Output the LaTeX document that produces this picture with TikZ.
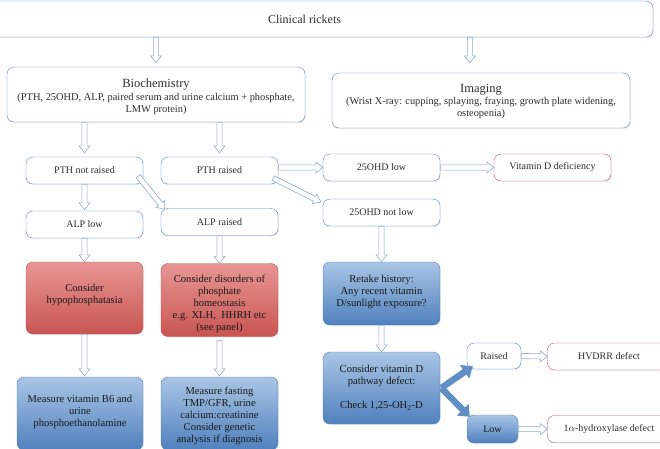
\documentclass[tikz,border=0pt]{standalone}
\usepackage{fontspec}
\setmainfont{Liberation Serif}
\usetikzlibrary{arrows.meta,calc,shadows}
\definecolor{boxblue}{RGB}{79,129,189}
\definecolor{boxbluetop}{RGB}{170,197,230}
\definecolor{arrowblue}{RGB}{140,172,210}
\definecolor{boxred}{RGB}{192,80,77}
\definecolor{boxredfill}{RGB}{200,85,82}
\definecolor{boxredtop}{RGB}{232,150,148}
\definecolor{txt}{RGB}{45,45,45}
% lines of a box, moved up by #1 without changing the box size
\newcommand{\liftlines}[2]{\raisebox{#1}[\height][\depth]{\begin{tabular}{@{}c@{}}#2\end{tabular}}}
\begin{document}
\begin{tikzpicture}[x=1pt, y=-1pt,
    box/.style={draw=boxblue, rounded corners=7pt, fill=white, align=center, text=txt,
        font=\fontsize{10}{12}\selectfont, minimum width=117pt, minimum height=27pt, inner sep=1pt,
        drop shadow={opacity=0.12, shadow xshift=0.8pt, shadow yshift=-1.2pt}},
    redline/.style={box, draw=boxred},
    redbox/.style={box, draw=boxred, top color=boxredtop, bottom color=boxredfill, text=black!90,
        font=\fontsize{10.6}{12}\selectfont},
    bluebox/.style={box, draw=boxblue, top color=boxbluetop, bottom color=boxblue, text=black!90,
        font=\fontsize{10.6}{12}\selectfont},
    hollow/.style={draw=arrowblue, fill=white, line width=0.6pt, to path={
        ($(\tikztostart)!2.6pt!90:(\tikztotarget)$)
        -- ($($(\tikztotarget)!7pt!(\tikztostart)$)!2.6pt!90:(\tikztotarget)$)
        -- ($($(\tikztotarget)!7pt!(\tikztostart)$)!5.5pt!90:(\tikztotarget)$)
        -- (\tikztotarget)
        -- ($($(\tikztotarget)!7pt!(\tikztostart)$)!5.5pt!-90:(\tikztotarget)$)
        -- ($($(\tikztotarget)!7pt!(\tikztostart)$)!2.6pt!-90:(\tikztotarget)$)
        -- ($(\tikztostart)!2.6pt!-90:(\tikztotarget)$) -- cycle}},
    fatarrow/.style={draw=boxblue!90, line width=6.5pt, -{Triangle[length=10pt, width=16pt]}}]
            \clip (0,0) rectangle (660,448);
            \node (clin) at (304.5,19) [box, minimum width=697pt, minimum height=36pt, font=\fontsize{12}{14}\selectfont] {Clinical rickets};
            \node (bio) at (156,94.5) [box, minimum width=298pt, minimum height=55pt]
                {\liftlines{-2.5pt}{{\fontsize{12.5}{14}\selectfont Biochemistry}\\[1pt]{\fontsize{10.4}{12}\selectfont (PTH, 25OHD, ALP, paired serum and urine calcium + phosphate,}\\{\fontsize{10.4}{12}\selectfont LMW protein)}}};
            \node (img) at (481,100.5) [box, minimum width=298pt, minimum height=55pt]
                {\liftlines{-2pt}{{\fontsize{12.5}{14}\selectfont Imaging}\\[0pt]{\fontsize{10.4}{12}\selectfont (Wrist X-ray: cupping, splaying, fraying, growth plate widening,}\\{\fontsize{10.4}{12}\selectfont osteopenia)}}};
            \node (ptnr) at (84.5,170.5) [box] {PTH not raised};
            \node (ptr) at (219.5,170.5) [box] {PTH raised};
            \node (alpl) at (84.5,224.5) [box] {ALP low};
            \node (alpr) at (219.5,222) [box] {ALP raised};
            \node (ohdl) at (381.5,167.5) [box] {25OHD low};
            \node (vdd) at (552.5,167.5) [redline] {Vitamin D deficiency};
            \node (ohdnl) at (381.5,212.5) [box] {25OHD not low};
            \node (hypo) at (84.5,298) [redbox, minimum height=72pt] {\liftlines{3pt}{Consider\\hypophosphatasia}};
            \node (disord) at (219.5,300) [redbox, minimum height=73pt] {\liftlines{-4pt}{Consider disorders of\\phosphate\\homeostasis\\e.g. XLH,~ HHRH etc\\(see panel)}};
            \node (mbsix) at (80,413.5) [bluebox, minimum width=126pt, minimum height=73pt] {\liftlines{1pt}{Measure vitamin B6 and\\urine\\phosphoethanolamine}};
            \node (mfast) at (219.5,413.5) [bluebox, minimum height=73pt] {\liftlines{-2.5pt}{Measure fasting\\TMP/GFR, urine\\calcium:creatinine\\Consider genetic\\analysis if diagnosis}};
            \node (retake) at (381.5,293.5) [bluebox, minimum height=63pt] {\liftlines{1pt}{Retake history:\\Any recent vitamin\\D/sunlight exposure?}};
            \node (cvd) at (381.5,388) [bluebox, minimum height=72pt] {\liftlines{0pt}{Consider vitamin D\\pathway defect:\\[12pt]Check 1,25-OH\textsubscript{2}-D}};
            \node (raised) at (494,356) [box, minimum width=54pt, minimum height=26pt] {Raised};
            \node (low) at (492.5,429) [bluebox, minimum width=51pt, minimum height=28pt, font=\fontsize{10}{12}\selectfont] {Low};
            \node (hvdrr) at (609,356.5) [redline, minimum width=123pt] {HVDRR defect};
            \node (hydrox) at (609,429) [redline, minimum width=123pt] {1$\alpha$-hydroxylase defect};
            \draw
            (clin.south -| bio.north) edge[hollow] ([yshift=4pt]bio.north)
            ([xshift=-11pt]clin.south -| img.north) edge[hollow] ([xshift=-11pt,yshift=10pt]img.north)
            (bio.south -| ptnr.north) edge[hollow] ([yshift=4pt]ptnr.north)
            (bio.south -| ptr.north) edge[hollow] ([yshift=4pt]ptr.north)
            (ptnr.south) edge[hollow] ([yshift=1pt]alpl.north)
            ([xshift=-5pt,yshift=8pt]ptnr.south east) edge[hollow] ([xshift=4pt,yshift=-1pt]alpr.north west)
            (ptr.east |- ohdl.west) edge[hollow] (ohdl.west)
            ([xshift=-5pt,yshift=6pt]ptr.south east) edge[hollow] ([xshift=-2pt,yshift=10.5pt]ohdnl.west)
            (ohdl.east) edge[hollow] (vdd.west)
            (alpl.south) edge[hollow] (hypo.north)
            (alpr.south) edge[hollow] (disord.north)
            (hypo.south) edge[hollow] ([yshift=1pt]hypo.south |- mbsix.north)
            ([yshift=-4pt]disord.south) edge[hollow] ([yshift=1pt]mfast.north)
            (ohdnl.south) edge[hollow] (retake.north)
            (retake.south) edge[hollow] (cvd.north)
            (raised.east) edge[hollow] (hvdrr.west)
            (low.east) edge[hollow] (hydrox.west)
            ;
            \draw[fatarrow] ([xshift=1pt]cvd.east) -- ([xshift=6pt,yshift=3pt]raised.south west);
            \draw[fatarrow] ([xshift=1pt]cvd.east) -- ([xshift=3pt,yshift=-2pt]low.north west);
\end{tikzpicture}
\end{document}
